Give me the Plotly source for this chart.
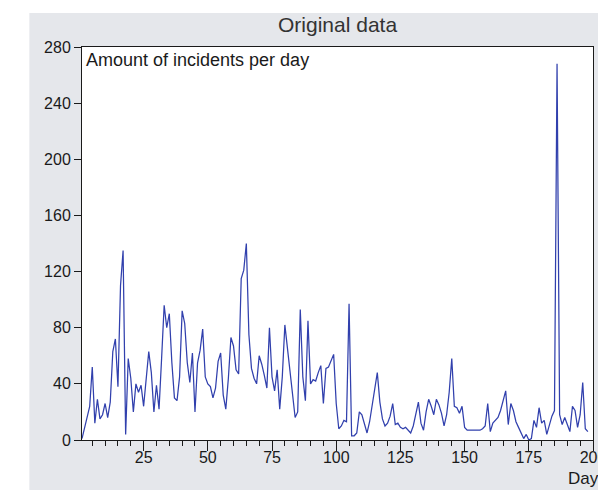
import plotly.graph_objects as go

days = list(range(1, 199))
incidents = [
    1, 8, 15, 24, 52, 12, 29, 15, 18, 26,
    16, 27, 63, 72, 38, 110, 135, 4, 58, 44,
    20, 40, 34, 39, 24, 45, 63, 48, 20, 39,
    22, 58, 96, 80, 90, 55, 30, 28, 45, 92,
    83, 55, 41, 62, 20, 55, 64, 79, 45, 40,
    38, 30, 37, 56, 62, 32, 22, 44, 73, 67,
    50, 47, 115, 121, 140, 75, 51, 44, 40, 60,
    54, 46, 37, 80, 45, 35, 50, 22, 45, 82,
    66, 50, 30, 16, 20, 93, 45, 28, 85, 40,
    43, 42, 48, 53, 26, 51, 52, 56, 61, 26,
    8, 10, 14, 13, 97, 3, 3, 5, 20, 18,
    12, 5, 13, 25, 37, 48, 27, 15, 10, 12,
    17, 26, 11, 12, 9, 8, 9, 7, 5, 10,
    18, 27, 12, 7, 20, 29, 24, 18, 29, 25,
    19, 10, 18, 34, 58, 24, 23, 19, 24, 9,
    7, 7, 7, 7, 7, 7, 8, 10, 26, 6,
    12, 14, 16, 21, 28, 35, 11, 26, 21, 13,
    9, 5, 1, 4, 0, 1, 14, 9, 23, 12,
    14, 4, 11, 17, 21, 268, 18, 11, 16, 11,
    6, 24, 21, 9, 18, 41, 8, 6,
]
x_ticks = [25, 50, 75, 100, 125, 150, 175, 200]
y_ticks = [0, 40, 80, 120, 160, 200, 240, 280]

FONT = "Liberation Sans, Arial, sans-serif"
BG = "#e5e7eb"

fig = go.Figure()
fig.add_trace(go.Scatter(
    x=days, y=incidents, mode="lines",
    line=dict(color="#3140ad", width=1.25),
    hoverinfo="skip", showlegend=False,
))

PW, PH = 524, 393
fig.update_layout(
    width=606, height=490,
    margin=dict(l=74, r=8, t=39, b=58),
    paper_bgcolor=BG,
    plot_bgcolor="#ffffff",
    font=dict(family=FONT, size=16, color="#1a1a1a"),
    showlegend=False,
    shapes=[
        dict(type="rect", xref="paper", yref="paper",
             x0=-80 / PW, x1=(20 - 74) / PW,
             y0=(432 - 500) / PH, y1=440 / PH,
             fillcolor="#ffffff", line=dict(width=0), layer="above"),
        dict(type="rect", xref="paper", yref="paper",
             x0=-80 / PW, x1=540 / PW,
             y0=(432 - 5) / PH, y1=440 / PH,
             fillcolor="#ffffff", line=dict(width=0), layer="above"),
    ],
    annotations=[
        dict(text="Original data", xref="paper", yref="paper", x=0.5, y=1,
             xanchor="center", yanchor="middle", yshift=23, showarrow=False,
             font=dict(family=FONT, size=21, color="#333333")),
        dict(text="Amount of incidents per day", xref="paper", yref="paper",
             x=0, y=1, xanchor="left", yanchor="middle", xshift=2, yshift=-13,
             showarrow=False, font=dict(family=FONT, size=18, color="#1a1a1a")),
        dict(text="Day", xref="paper", yref="paper", x=(606 - 74) / PW, y=0,
             xanchor="right", yanchor="middle", yshift=-38, showarrow=False,
             font=dict(family=FONT, size=17, color="#1a1a1a")),
    ],
)

fig.update_xaxes(
    range=[1, 200], tickmode="array", tickvals=x_ticks,
    ticktext=[str(v) for v in x_ticks],
    ticks="outside", ticklen=10, tickcolor="#1a1a1a", tickwidth=1,
    minor=dict(dtick=5, tick0=0, ticks="outside", ticklen=5,
               tickcolor="#1a1a1a", tickwidth=1),
    showline=True, linecolor="#1a1a1a", linewidth=1, mirror=True,
    showgrid=False, zeroline=False, fixedrange=True,
    ticklabeloverflow="allow", ticklabelstandoff=-7,
    tickfont=dict(family=FONT, size=16, color="#1a1a1a"),
)
fig.update_yaxes(
    range=[0, 280], tickmode="array", tickvals=y_ticks,
    ticktext=[str(v) for v in y_ticks],
    ticks="outside", ticklen=7, tickcolor="#1a1a1a", tickwidth=1,
    showline=True, linecolor="#1a1a1a", linewidth=1, mirror=True,
    showgrid=False, zeroline=False, fixedrange=True,
    tickfont=dict(family=FONT, size=16, color="#1a1a1a"),
)

fig.write_html("out.html", config={"displayModeBar": False})
